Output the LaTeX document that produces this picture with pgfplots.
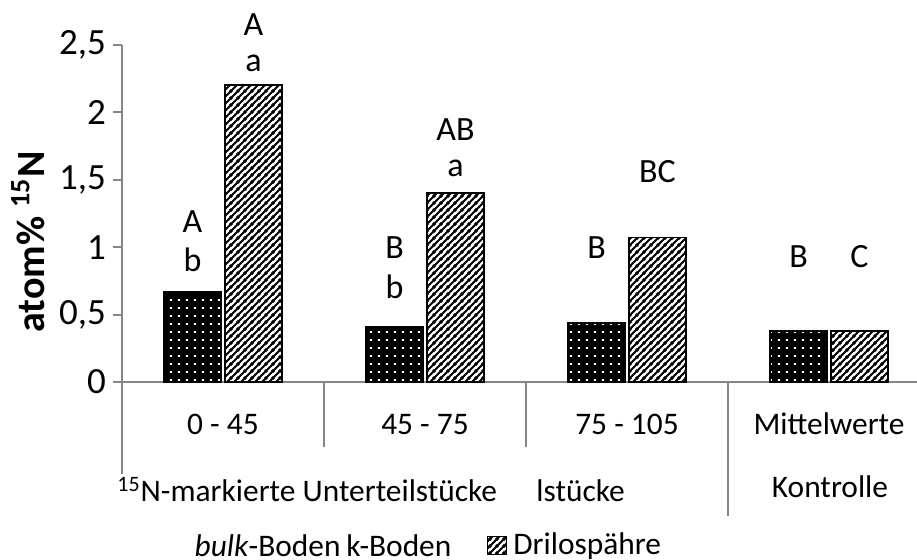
\documentclass[border=0pt]{standalone}
\usepackage{fontspec}
\setmainfont{Carlito}
\usepackage{pgfplots}
\pgfplotsset{compat=1.18}
\usetikzlibrary{patterns.meta}
\definecolor{axgray}{HTML}{868686}

% white dots on black
\tikzdeclarepattern{
  name=wdots,
  type=uncolored,
  bottom left={(0pt,0pt)},
  top right={(4.2pt,4.2pt)},
  tile size={(4.2pt,4.2pt)},
  code={\fill (1.6pt,1.6pt) rectangle (2.6pt,2.6pt);}
}
% heavy diagonal hatch
\tikzdeclarepattern{
  name=hatch,
  type=uncolored,
  bottom left={(0pt,0pt)},
  top right={(3.5pt,3.5pt)},
  tile size={(3.5pt,3.5pt)},
  code={\draw[line width=1.1pt] (-1pt,-1pt)--(4.5pt,4.5pt) (-4.5pt,-1pt)--(1pt,4.5pt) (2.5pt,-1pt)--(8pt,4.5pt);}
}

\newcommand{\lbl}{\fontsize{15.7}{19}\selectfont}
\newcommand{\sig}{\fontsize{17}{20}\selectfont}

\begin{document}
\begin{tikzpicture}
\begin{axis}[
  scale only axis,
  width=397.5pt, height=168.5pt,
  xmin=-0.5, xmax=3.4356,
  ymin=0, ymax=2.5,
  axis lines*=left,
  axis line style={axgray, line width=1pt},
  xtick=\empty,
  ytick={0,0.5,1,1.5,2,2.5},
  ytick style={axgray, line width=1pt},
  tick align=outside,
  major tick length=4.5pt,
  /pgf/number format/use comma,
  /pgf/number format/assume math mode=true,
  yticklabel style={font=\fontsize{18.5}{22}\selectfont},
  ybar=2pt, bar width=28.5pt,
  clip=false,
]
\coordinate (O) at (rel axis cs:0,0);

\addplot[draw=black, line width=0.6pt, fill=black,
  postaction={pattern=wdots, pattern color=white}]
  coordinates {(0,0.668) (1,0.408) (2,0.438) (3,0.378)};
\addplot[draw=black, line width=0.75pt, fill=white,
  postaction={pattern=hatch}]
  coordinates {(0,2.203) (1,1.402) (2,1.072) (3,0.380)};

% significance letters
\node[font=\sig] at (axis cs:0.151,2.648) {A};
\node[font=\sig] at (axis cs:0.151,2.366) {a};
\node[font=\sig] at (axis cs:-0.151,1.187) {A};
\node[font=\sig] at (axis cs:-0.151,0.905) {b};
\node[font=\sig] at (axis cs:1.151,1.869) {AB};
\node[font=\sig] at (axis cs:1.151,1.588) {a};
\node[font=\sig] at (axis cs:0.849,0.994) {B};
\node[font=\sig] at (axis cs:0.849,0.705) {b};
\node[font=\sig] at (axis cs:2.151,1.558) {BC};
\node[font=\sig] at (axis cs:1.849,0.994) {B};
\node[font=\sig] at (axis cs:2.849,0.927) {B};
\node[font=\sig] at (axis cs:3.151,0.927) {C};

% category labels and separators
\draw[axgray, line width=1pt] (axis cs:-0.5,0) -- ++(0pt,-46pt);
\draw[axgray, line width=1pt] (axis cs:0.5,0) -- ++(0pt,-32.5pt);
\draw[axgray, line width=1pt] (axis cs:1.5,0) -- ++(0pt,-32.5pt);
\draw[axgray, line width=1pt] (axis cs:2.5,0) -- ++(0pt,-67pt);
\node[font=\lbl, anchor=base, yshift=-26.5pt] at (axis cs:0,0) {0 - 45};
\node[font=\lbl, anchor=base, yshift=-26.5pt] at (axis cs:1,0) {45 - 75};
\node[font=\lbl, anchor=base, yshift=-26.5pt] at (axis cs:2,0) {75 - 105};
\node[font=\lbl, anchor=base, yshift=-26.5pt] at (axis cs:3,0) {Mittelwerte};
\end{axis}

% group labels
\node[font=\lbl, anchor=base west, inner sep=0pt] at ([xshift=-2.5pt,yshift=-60pt]O) {\textsuperscript{15}N-markierte Unterteilstücke};
\node[font=\lbl, anchor=base west, inner sep=0pt] at ([xshift=207pt,yshift=-60pt]O) {lstücke};
\node[font=\lbl, anchor=base, inner sep=0pt] at ([xshift=354pt,yshift=-58pt]O) {Kontrolle};

% y label
\node[font=\fontsize{20}{24}\selectfont\bfseries, rotate=90] at ([xshift=-47pt,yshift=70pt]O) {atom\% \textsuperscript{15}N};

% legend
\node[font=\lbl, anchor=east, inner sep=0pt] at ([xshift=109.5pt,yshift=-82pt]O) {\textit{bulk}-Boden};
\node[font=\lbl, anchor=west, inner sep=0pt] at ([xshift=112pt,yshift=-82pt]O) {k-Boden};
\draw[black, line width=0.5pt, fill=white, postaction={pattern=hatch}]
  ([xshift=182.5pt,yshift=-77.5pt]O) rectangle ([xshift=192pt,yshift=-86.5pt]O);
\node[font=\lbl, anchor=west, inner sep=0pt] at ([xshift=195.5pt,yshift=-82pt]O) {Drilospähre};

\pgfresetboundingbox
\path ([xshift=-61pt,yshift=-89pt]O) rectangle ([xshift=397.5pt,yshift=191pt]O);
\end{tikzpicture}
\end{document}
